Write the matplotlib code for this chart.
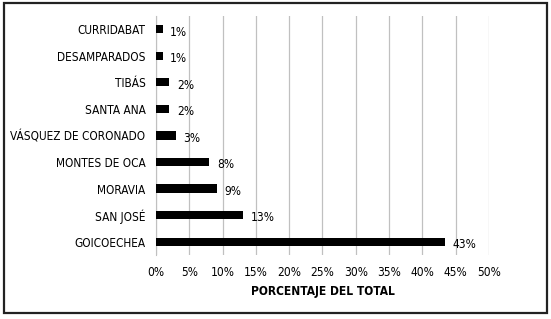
import matplotlib
matplotlib.use("Agg")
import matplotlib.pyplot as plt
from matplotlib.patches import Rectangle

categories = ["GOICOECHEA", "SAN JOSÉ", "MORAVIA", "MONTES DE OCA",
              "VÁSQUEZ DE CORONADO", "SANTA ANA", "TIBÁS", "DESAMPARADOS", "CURRIDABAT"]
values = [43.4, 13.1, 9.1, 8.0, 3.0, 2.0, 2.0, 1.0, 1.0]
labels = ["43%", "13%", "9%", "8%", "3%", "2%", "2%", "1%", "1%"]
xticks = [0, 5, 10, 15, 20, 25, 30, 35, 40, 45, 50]
xticklabels = [f"{t}%" for t in xticks]

plt.rcParams['font.family'] = ['DejaVu Sans']
FS = 8.6
fig = plt.figure(figsize=(5.51, 3.19), dpi=100)
ax = fig.add_axes([0.283, 0.2006, 0.6045, 0.7494])

y = list(range(len(categories)))
ax.barh(y, values, height=0.31, color="black", zorder=3)
for yi, v, lab in zip(y, values, labels):
    ax.annotate(lab, (v, yi), xytext=(5.5, -2), textcoords="offset points",
                va="center", ha="left", fontsize=FS, stretch="condensed")

ax.set_xlim(0, 50)
ax.set_ylim(-0.5, len(categories) - 0.5)
ax.set_xticks(xticks)
ax.set_xticklabels(xticklabels, fontsize=FS, stretch="condensed")
ax.set_yticks(y)
ax.set_yticklabels(categories, fontsize=8.5, stretch="condensed")
ax.tick_params(length=0)
ax.tick_params(axis="y", pad=7.5)
ax.tick_params(axis="x", pad=8)
ax.grid(axis="x", color="#c0c0c0", linewidth=0.9, zorder=0)
for s in ["top", "right", "bottom"]:
    ax.spines[s].set_visible(False)
ax.spines["left"].set_color("#c0c0c0")
ax.set_xlabel("PORCENTAJE DEL TOTAL", fontsize=FS, fontweight="bold",
              stretch="condensed", labelpad=4)

fig.patches.append(Rectangle((0.008, 0.02), 0.984, 0.972, transform=fig.transFigure,
                             fill=False, edgecolor="#222222", linewidth=1.6))
fig.savefig("out.png", dpi=100)
